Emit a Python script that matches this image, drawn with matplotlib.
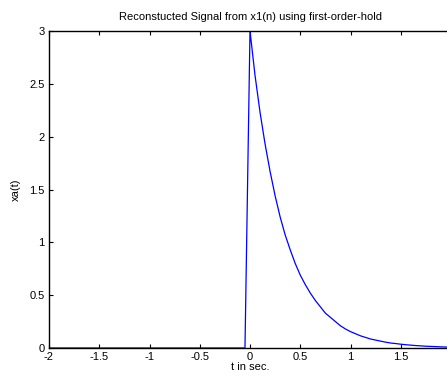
import matplotlib
matplotlib.use("Agg")
import matplotlib.pyplot as plt

plt.rcParams['font.family'] = ['Liberation Sans', 'DejaVu Sans']

# reconstructed signal (first-order hold)
t_zero = [-2.0, -0.05]
x_zero = [0.0, 0.0]

t_decay = [0.00, 0.05, 0.10, 0.15, 0.20, 0.25, 0.30, 0.35, 0.40, 0.45,
           0.50, 0.55, 0.60, 0.65, 0.70, 0.75, 0.80, 0.85, 0.90, 0.95,
           1.00, 1.05, 1.10, 1.15, 1.20, 1.25, 1.30, 1.35, 1.40, 1.45,
           1.50, 1.55, 1.60, 1.65, 1.70, 1.75, 1.80, 1.85, 1.90, 1.95, 2.00]
x_decay = [3.00, 2.58, 2.23, 1.93, 1.67, 1.44, 1.24, 1.07, 0.93, 0.80,
           0.69, 0.60, 0.52, 0.45, 0.39, 0.33, 0.29, 0.25, 0.21, 0.18,
           0.155, 0.135, 0.115, 0.10, 0.085, 0.075, 0.065, 0.055, 0.047, 0.042,
           0.036, 0.031, 0.027, 0.023, 0.020, 0.017, 0.015, 0.013, 0.011, 0.009, 0.008]

xticks = [-2, -1.5, -1, -0.5, 0, 0.5, 1, 1.5, 2]
xtick_labels = ['-2', '-1.5', '-1', '-0.5', '0', '0.5', '1', '1.5', '']
yticks = [0, 0.5, 1, 1.5, 2, 2.5, 3]
ytick_labels = ['0', '0.5', '1', '1.5', '2', '2.5', '3']

fig = plt.figure(figsize=(4.47, 3.78), dpi=100)
ax = fig.add_axes([49 / 447, 30 / 378, 402 / 447, 317 / 378])

ax.plot(t_zero + t_decay, x_zero + x_decay, color=(0, 0, 1), lw=0.9)

ax.set_xlim(-2, 2)
ax.set_ylim(0, 3)
ax.set_xticks(xticks)
ax.set_xticklabels(xtick_labels)
ax.set_yticks(yticks)
ax.set_yticklabels(ytick_labels)
ax.tick_params(direction='in', length=3, width=0.8, labelsize=8,
               top=True, right=True)
ax.tick_params(axis='x', pad=3)
ax.tick_params(axis='y', pad=3)
for s in ax.spines.values():
    s.set_linewidth(1.0)

ax.set_title('Reconstucted Signal from x1(n) using first-order-hold', fontsize=8, pad=8)
ax.set_xlabel('t in sec.', fontsize=8, labelpad=0)
ax.set_ylabel('xa(t)', fontsize=8, labelpad=6)

fig.savefig('out.png', dpi=100)
